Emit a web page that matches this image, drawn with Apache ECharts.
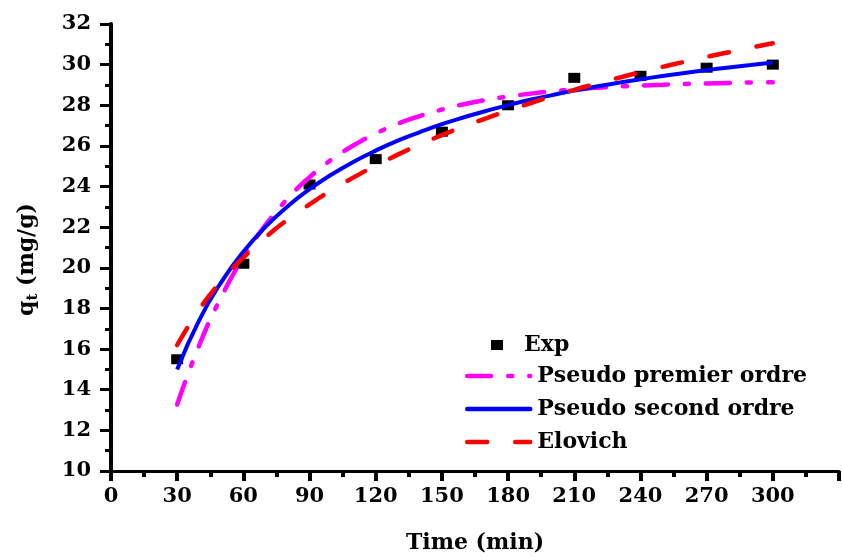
<!DOCTYPE html>
<html>
<head>
<meta charset="utf-8">
<script src="https://cdn.jsdelivr.net/npm/echarts@6/dist/echarts.min.js"></script>
<style>
html,body{margin:0;padding:0;background:#fff;}
#chart{width:842px;height:559px;}
</style>
</head>
<body>
<div id="chart"></div>
<script>
// Experimental data
const expTime = [30, 60, 90, 120, 150, 180, 210, 240, 270, 300];
const expQt = [15.5, 20.2, 24.1, 25.35, 26.7, 28.0, 29.35, 29.45, 29.85, 30.0];

// Model curves
const modelTime = [30, 40, 50, 60, 70, 80, 90, 100, 110, 120, 130, 140, 150, 160, 170, 180, 190, 200, 210, 220, 230, 240, 250, 260, 270, 280, 290, 300];
const pseudoPremier = [13.27, 16.19, 18.57, 20.51, 22.10, 23.40, 24.46, 25.33, 26.03, 26.61, 27.09, 27.47, 27.79, 28.05, 28.26, 28.43, 28.57, 28.69, 28.78, 28.86, 28.92, 28.97, 29.01, 29.05, 29.07, 29.10, 29.12, 29.13];
const pseudoSecond = [15.00, 17.43, 19.30, 20.79, 22.01, 23.02, 23.87, 24.59, 25.22, 25.77, 26.26, 26.68, 27.07, 27.41, 27.72, 28.01, 28.27, 28.50, 28.72, 28.92, 29.11, 29.28, 29.44, 29.59, 29.73, 29.86, 29.98, 30.10];
const elovich = [16.2, 17.95, 19.35, 20.5, 21.5, 22.37, 23.12, 23.82, 24.45, 25.03, 25.57, 26.07, 26.53, 26.96, 27.36, 27.74, 28.1, 28.44, 28.76, 29.06, 29.35, 29.63, 29.89, 30.14, 30.38, 30.61, 30.84, 31.05];

const xTicks = [0, 30, 60, 90, 120, 150, 180, 210, 240, 270, 300];
const yTicks = [10, 12, 14, 16, 18, 20, 22, 24, 26, 28, 30, 32];

const FONT = 'DejaVu Serif';
const pair = (xs, ys) => xs.map((x, i) => [x, ys[i]]);

const chart = echarts.init(document.getElementById('chart'), null, {renderer: 'canvas'});
chart.setOption({
  backgroundColor: '#ffffff',
  animation: false,
  grid: {left: 111, top: 24, right: -16, bottom: 86},
  xAxis: {
    type: 'value',
    min: 0, max: 330, interval: 30,
    name: 'Time (min)',
    nameLocation: 'middle',
    nameGap: 61,
    nameTextStyle: {fontFamily: FONT, fontWeight: 'bold', fontSize: 22, color: '#000'},
    axisLine: {show: true, onZero: false, lineStyle: {color: '#000', width: 3}},
    axisTick: {show: true, inside: false, length: 10, lineStyle: {color: '#000', width: 4}},
    minorTick: {show: true, splitNumber: 2, length: 6, lineStyle: {color: '#000', width: 4}},
    splitLine: {show: false},
    axisLabel: {
      fontFamily: FONT, fontWeight: 'bold', fontSize: 21, color: '#000', margin: 15,
      formatter: v => xTicks.includes(v) ? String(v) : ''
    }
  },
  yAxis: {
    type: 'value',
    min: 10, max: 32, interval: 2,
    name: '{q|q}{t|t}{q| (mg/g)}',
    nameLocation: 'middle',
    nameGap: 70,
    nameTextStyle: {
      fontFamily: FONT, fontWeight: 'bold', fontSize: 22, color: '#000', padding: [0, 24, 0, 0],
      rich: {
        q: {fontFamily: FONT, fontWeight: 'bold', fontSize: 22, color: '#000'},
        t: {fontFamily: FONT, fontWeight: 'bold', fontSize: 15, color: '#000', padding: [12, 0, 0, 0]}
      }
    },
    axisLine: {show: true, onZero: false, lineStyle: {color: '#000', width: 4}},
    axisTick: {show: true, inside: false, length: 11, lineStyle: {color: '#000', width: 3}},
    minorTick: {show: true, splitNumber: 2, length: 6, lineStyle: {color: '#000', width: 3}},
    splitLine: {show: false},
    axisLabel: {
      fontFamily: FONT, fontWeight: 'bold', fontSize: 21, color: '#000', margin: 20,
      formatter: v => yTicks.includes(v) ? String(v) : ''
    }
  },
  legend: [
    {
      orient: 'vertical',
      left: 486, top: 329,
      itemWidth: 12, itemHeight: 10,
      data: [{name: 'Exp', icon: 'rect'}],
      itemStyle: {color: '#000', opacity: 1},
      textStyle: {fontFamily: FONT, fontWeight: 'bold', fontSize: 22, color: '#000', padding: [0, 0, 0, 16]}
    },
    {
      orient: 'vertical',
      left: 460, top: 360,
      itemWidth: 63, itemHeight: 14,
      itemGap: 11,
      data: ['Pseudo premier ordre', 'Pseudo second ordre', 'Elovich'],
      itemStyle: {opacity: 0},
      lineStyle: {width: 4.5, cap: 'round'},
      textStyle: {fontFamily: FONT, fontWeight: 'bold', fontSize: 22, color: '#000', lineHeight: 22, padding: [0, 0, 0, 2]}
    }
  ],
  series: [
    {
      name: 'Exp',
      type: 'scatter',
      data: pair(expTime, expQt),
      symbol: 'rect',
      symbolSize: [12, 10],
      itemStyle: {color: '#000', opacity: 1},
      z: 1
    },
    {
      name: 'Pseudo premier ordre',
      type: 'line',
      data: pair(modelTime, pseudoPremier),
      smooth: true,
      showSymbol: false,
      symbol: 'none',
      symbolSize: 0,
      itemStyle: {color: '#ff00ff'},
      lineStyle: {color: '#ff00ff', width: 4.5, type: [24, 17, 4, 17], cap: 'round'},
      z: 2
    },
    {
      name: 'Pseudo second ordre',
      type: 'line',
      data: pair(modelTime, pseudoSecond),
      smooth: true,
      showSymbol: false,
      symbol: 'none',
      symbolSize: 0,
      itemStyle: {color: '#0000ff'},
      lineStyle: {color: '#0000ff', width: 4},
      z: 3
    },
    {
      name: 'Elovich',
      type: 'line',
      data: pair(modelTime, elovich),
      smooth: true,
      showSymbol: false,
      symbol: 'none',
      symbolSize: 0,
      itemStyle: {color: '#ff0000'},
      lineStyle: {color: '#ff0000', width: 4.5, type: [20, 28], cap: 'round'},
      z: 4
    }
  ]
});
</script>
</body>
</html>
